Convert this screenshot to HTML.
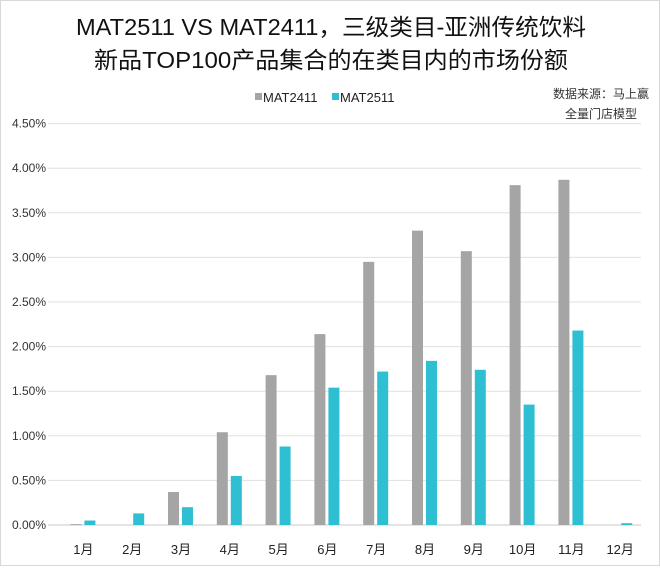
<!DOCTYPE html>
<html><head><meta charset="utf-8"><style>
body{margin:0;background:#fff}
#c{position:absolute;left:0;top:0;width:658px;height:564px;border:1px solid #d9d9d9;background:#fff}
text{font-family:"Liberation Sans","Noto Sans CJK SC",sans-serif}
</style></head><body>
<div id="c">
<svg id="s" width="660" height="566">
<text x="75" y="34" font-size="23" fill="#111" textLength="510" lengthAdjust="spacingAndGlyphs">MAT2511 VS MAT2411，三级类目-亚洲传统饮料</text>
<text x="93" y="67" font-size="23" fill="#111" textLength="474" lengthAdjust="spacingAndGlyphs">新品TOP100产品集合的在类目内的市场份额</text>
<g>
<rect x="254" y="92" width="7" height="7" fill="#a5a5a5"/>
<text x="262" y="101" font-size="13" fill="#222">MAT2411</text>
<rect x="331" y="92" width="7" height="7" fill="#2fbfd2"/>
<text x="339" y="101" font-size="13" fill="#222">MAT2511</text>
</g>
<text x="648" y="97" text-anchor="end" font-size="12" fill="#333">数据来源：马上赢</text>
<text x="636" y="117" text-anchor="end" font-size="12" fill="#333">全量门店模型</text>
<g id="grid"></g><g id="bars"></g><g id="labels"></g>
</svg></div>
<script>
const categories=["1月","2月","3月","4月","5月","6月","7月","8月","9月","10月","11月","12月"];
const mat2411=[0.01,0,0.37,1.04,1.68,2.14,2.95,3.30,3.07,3.81,3.87,0];
const mat2511=[0.05,0.13,0.20,0.55,0.88,1.54,1.72,1.84,1.74,1.35,2.18,0.02];
const yTicks=[0,0.5,1,1.5,2,2.5,3,3.5,4,4.5];
const NS="http://www.w3.org/2000/svg";
const y0=524,pxPer=44.6/0.5,left=58,band=48.8;
const y=v=>y0-v*pxPer;
const xc=i=>left+band*(i+0.5);
function mk(t,a,p){const e=document.createElementNS(NS,t);for(const k in a)e.setAttribute(k,a[k]);document.getElementById(p).appendChild(e);return e;}
yTicks.forEach(v=>{
 const l=mk("line",{x1:47,x2:640,y1:y(v),y2:y(v),stroke:v===0?"#c8c8c8":"#e0e0e0","stroke-width":1},"grid");
 
 
 const t=mk("text",{x:45,y:y(v)+4,"text-anchor":"end","font-size":12,fill:"#333"},"labels");
 t.textContent=v.toFixed(2)+"%";
 
 
});
categories.forEach((c,i)=>{
 const b1=mk("rect",{x:xc(i)-13,y:y(mat2411[i]),width:11,height:mat2411[i]*pxPer,fill:"#a5a5a5"},"bars");
 
 
 const b2=mk("rect",{x:xc(i)+1,y:y(mat2511[i]),width:11,height:mat2511[i]*pxPer,fill:"#2fbfd2"},"bars");
 
 
 const t=mk("text",{x:xc(i),y:553,"text-anchor":"middle","font-size":13,fill:"#222"},"labels");
 t.textContent=c;
 
 
});
</script>
</body></html>
